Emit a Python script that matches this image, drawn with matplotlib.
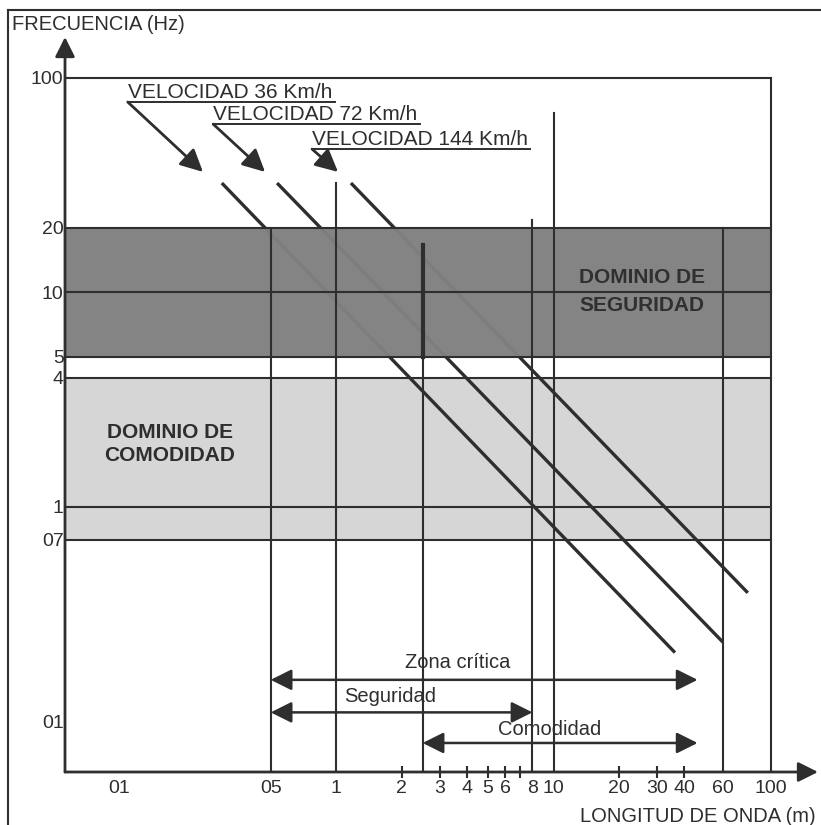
import numpy as np
import matplotlib.pyplot as plt
from matplotlib.lines import Line2D
from matplotlib.ticker import NullFormatter

plt.rcParams['font.family'] = ['Liberation Sans', 'DejaVu Sans']

# frequency bands (Hz)
safety_band = (5, 20)
comfort_band = (0.7, 4)

# horizontal reference lines (Hz)
h_levels = [100, 20, 10, 5, 4, 1, 0.7]

# vertical reference lines: wavelength (m) and the frequency where each one stops
v_lines_x = [0.5, 1, 2.5, 8, 10, 60, 100]
v_lines_top = [20, 32.3, 16.6, 21.7, 68.5, 20, 100]

# speed lines, end points as (wavelength, frequency)
speed_labels = ['VELOCIDAD 36 Km/h', 'VELOCIDAD 72 Km/h', 'VELOCIDAD 144 Km/h']
speed_lam = [[0.298, 36.2], [0.535, 60.1], [1.17, 78.3]]
speed_freq = [[32.3, 0.209], [32.3, 0.234], [32.3, 0.397]]

# wavelength ranges at the bottom
range_names = ['Zona crítica', 'Seguridad', 'Comodidad']
range_from = [0.5, 0.5, 2.5]
range_to = [46, 8, 46]

xtick_vals = [0.1, 0.5, 1, 2, 3, 4, 5, 6, 8, 10, 20, 30, 40, 60, 100]
xtick_text = ['01', '05', '1', '2', '3', '4', '5', '6', '8', '10', '20', '30', '40', '60', '100']
xtick_minor = [2, 3, 4, 5, 6, 7, 20, 30, 40]
ytick_vals = [0.1, 0.7, 1, 4, 5, 10, 20, 100]
ytick_text = ['01', '07', '1', '4', '5', '10', '20', '100']

ink = '#2e2e2e'

fig = plt.figure(figsize=(8.21, 8.25), dpi=100)
ax = fig.add_axes([65/821, 53/825, 753/821, 735/825])
ax.set_xscale('log')
ax.set_yscale('log')
ax.set_xlim(0.0566, 164.7)
ax.set_ylim(0.058, 154.9)
x0 = ax.get_xlim()[0]
y0 = ax.get_ylim()[0]

for s in ax.spines.values():
    s.set_visible(False)

# shaded domains
ax.fill_between([x0, 100], *comfort_band, color='#d6d6d6', lw=0, zorder=0.5)
ax.fill_between([x0, 100], *safety_band, color='#808080', alpha=0.97, lw=0, zorder=2)

for y in h_levels:
    ax.plot([x0, 100], [y, y], color=ink, lw=1.5, zorder=3)
for x, top in zip(v_lines_x, v_lines_top):
    ax.plot([x, x], [y0, top], color=ink, lw=1.5, zorder=3)
ax.plot([2.5, 2.5], [16.6, 5], color=ink, lw=3, zorder=3)

for lam, fr in zip(speed_lam, speed_freq):
    ax.plot(lam, fr, color=ink, lw=2.4, zorder=1, solid_capstyle='butt')

# speed labels with underline and pointer
head = '-|>,head_length=0.4,head_width=0.2'
lab_pos = [(0.110, 80.4, 77.1, 0.988), (0.272, 63.6, 60.8, 2.43), (0.775, 48.6, 46.5, 7.80)]
tips = [(0.244, 36.4), (0.471, 36.4), (1.02, 36.4)]
for text, (lx, ty, uy, rx), tip in zip(speed_labels, lab_pos, tips):
    ax.text(lx, ty, text, fontsize=15, ha='left', va='baseline', color=ink, zorder=4)
    ax.plot([lx, rx], [uy, uy], color=ink, lw=1.4, zorder=4)
    ax.annotate('', xy=tip, xytext=(lx, uy),
                arrowprops=dict(arrowstyle=head, mutation_scale=34, color=ink, lw=2,
                                shrinkA=0, shrinkB=0), zorder=4)

# domain names
ax.text(0.172, 2.23, 'DOMINIO DE', fontsize=15, fontweight='bold', ha='center', va='center', color=ink, zorder=4)
ax.text(0.172, 1.74, 'COMODIDAD', fontsize=15, fontweight='bold', ha='center', va='center', color=ink, zorder=4)
ax.text(25.4, 11.66, 'DOMINIO DE', fontsize=15, fontweight='bold', ha='center', va='center', color='#303030', zorder=4)
ax.text(25.4, 8.70, 'SEGURIDAD', fontsize=15, fontweight='bold', ha='center', va='center', color='#303030', zorder=4)

# wavelength ranges
arrow_y = [0.156, 0.110, 0.0792]
label_pos = [(3.64, 0.187), (1.77, 0.130), (9.64, 0.0911)]
for name, a, b, y, (tx, ty) in zip(range_names, range_from, range_to, arrow_y, label_pos):
    ax.annotate('', xy=(b, y), xytext=(a, y),
                arrowprops=dict(arrowstyle='<|-|>,head_length=0.4,head_width=0.2',
                                mutation_scale=32, color=ink, lw=1.8, shrinkA=0, shrinkB=0),
                zorder=4)
    ax.text(tx, ty, name, fontsize=14.5, ha='center', va='center', color=ink, zorder=4)

# axes drawn as arrows
axis_arrow = dict(arrowstyle=head, mutation_scale=30, color=ink, lw=2, shrinkA=0, shrinkB=0)
ax.annotate('', xy=(1, 0), xytext=(0, 0), xycoords='axes fraction', arrowprops=axis_arrow)
ax.annotate('', xy=(0, 1), xytext=(0, 0), xycoords='axes fraction', arrowprops=axis_arrow)

ax.set_xticks(xtick_vals, xtick_text)
ax.set_xticks(xtick_minor, minor=True)
ax.xaxis.set_minor_formatter(NullFormatter())
ax.xaxis.remove_overlapping_locs = False
ax.set_yticks(ytick_vals, ytick_text)
ax.yaxis.set_minor_locator(plt.NullLocator())
ax.tick_params(axis='x', which='major', length=0, pad=6, labelsize=14, labelcolor=ink)
ax.tick_params(axis='x', which='minor', length=9, width=1.5, direction='inout', color=ink)
ax.tick_params(axis='y', length=0, pad=1, labelsize=14, labelcolor=ink)

fig.text(12/821, 1 - 25/825, 'FRECUENCIA (Hz)', fontsize=14.5, ha='left', va='center', color=ink)
fig.text(816/821, 1 - 816/825, 'LONGITUD DE ONDA (m)', fontsize=14.5, ha='right', va='center', color=ink)

# page border
fig.add_artist(Line2D([8/821, 1], [1 - 10/825, 1 - 10/825], color=ink, lw=1.5))
fig.add_artist(Line2D([8/821, 8/821], [0, 1 - 10/825], color=ink, lw=1.5))

fig.savefig('out.png', dpi=100)
